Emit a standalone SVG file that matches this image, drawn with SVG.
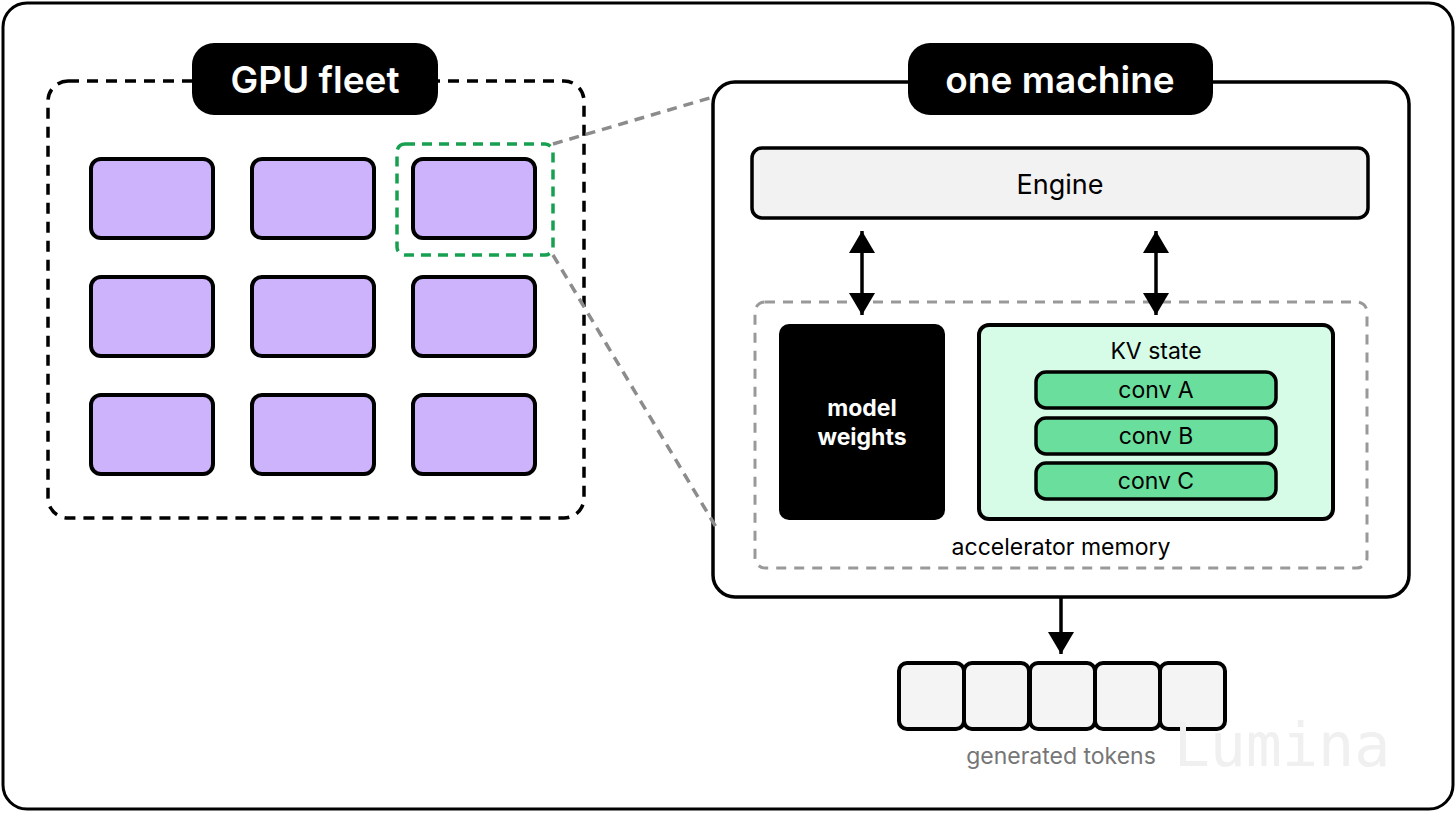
<svg xmlns="http://www.w3.org/2000/svg" width="1456" height="813" viewBox="0 0 1456 813">
<style>
text{font-family:Inter,"Liberation Sans",sans-serif}
.gpu{fill:#cdb3fc;stroke:#000;stroke-width:4}
.pill{fill:#000}
.pilltext{fill:#fff;font-size:37px;font-weight:600;text-anchor:middle}
.conv{fill:#6ade9c;stroke:#000;stroke-width:3.5}
.convt{font-size:23px;text-anchor:middle;fill:#000}
.tok{fill:#f4f4f4;stroke:#000;stroke-width:4}
.zoom{stroke:#8c8c8c;stroke-width:3.5;stroke-dasharray:10 7;fill:none}
.arr{stroke:#000;stroke-width:3.5;fill:none}
</style>
<defs>
<marker id="ah" viewBox="0 0 22 26" refX="22" refY="13" markerWidth="22" markerHeight="26" markerUnits="userSpaceOnUse" orient="auto-start-reverse"><path d="M0,0 L22,13 L0,26 z" fill="#000"/></marker>
</defs>
<rect x="0" y="0" width="1456" height="813" fill="#fff"/>
<rect id="frame" x="3" y="3" width="1450" height="806" rx="24" fill="#fff" stroke="#000" stroke-width="3"/>

<g id="gpu-fleet">
<rect x="48" y="81" width="536" height="437" rx="20" fill="none" stroke="#000" stroke-width="3.5" stroke-dasharray="11 8"/>
<rect class="pill" x="192" y="43" width="246" height="72" rx="22"/>
<text class="pilltext" x="315" y="93">GPU fleet</text>
</g>
<g id="gpus">
<rect class="gpu" x="91" y="159" width="122" height="79" rx="10"/>
<rect class="gpu" x="252" y="159" width="122" height="79" rx="10"/>
<rect class="gpu" x="413" y="159" width="122" height="79" rx="10"/>
<rect class="gpu" x="91" y="277" width="122" height="79" rx="10"/>
<rect class="gpu" x="252" y="277" width="122" height="79" rx="10"/>
<rect class="gpu" x="413" y="277" width="122" height="79" rx="10"/>
<rect class="gpu" x="91" y="395" width="122" height="79" rx="10"/>
<rect class="gpu" x="252" y="395" width="122" height="79" rx="10"/>
<rect class="gpu" x="413" y="395" width="122" height="79" rx="10"/>
</g>
<g id="highlight">
<rect x="397" y="144" width="156" height="111" rx="8" fill="none" stroke="#16a050" stroke-width="3.5" stroke-dasharray="10 7"/>
</g>

<g id="one-machine">
<rect x="713" y="82" width="696" height="515" rx="22" fill="#fff" stroke="#000" stroke-width="3.5"/>
<rect class="pill" x="908" y="43" width="305" height="72" rx="22"/>
<text class="pilltext" x="1060" y="93">one machine</text>
</g>
<g id="engine">
<rect x="752" y="148" width="616" height="70" rx="10" fill="#f2f2f2" stroke="#000" stroke-width="3.5"/>
<text x="1060" y="194" font-size="27" text-anchor="middle" fill="#000">Engine</text>
</g>
<g id="accelerator-memory">
<rect x="755" y="302" width="612" height="266" rx="10" fill="none" stroke="#999" stroke-width="3" stroke-dasharray="10 8"/>
<text x="1061" y="555" font-size="23" text-anchor="middle" fill="#000">accelerator memory</text>
</g>
<g id="model-weights">
<rect x="779" y="324" width="166" height="196" rx="10" fill="#000"/>
<text x="862" y="416" font-size="23" font-weight="700" text-anchor="middle" fill="#fff">model</text>
<text x="862" y="445" font-size="23" font-weight="700" text-anchor="middle" fill="#fff">weights</text>
</g>
<g id="kv-state">
<rect x="979" y="325" width="354" height="194" rx="10" fill="#d6fbe6" stroke="#000" stroke-width="4"/>
<text x="1156" y="359" font-size="23" text-anchor="middle" fill="#000">KV state</text>
</g>
<g id="conv-a"><rect class="conv" x="1036" y="372" width="240" height="36" rx="10"/><text class="convt" x="1156" y="398">conv A</text></g>
<g id="conv-b"><rect class="conv" x="1036" y="418" width="240" height="36" rx="10"/><text class="convt" x="1156" y="444">conv B</text></g>
<g id="conv-c"><rect class="conv" x="1036" y="463" width="240" height="36" rx="10"/><text class="convt" x="1156" y="489">conv C</text></g>

<g id="tokens">
<rect class="tok" x="899" y="663" width="65" height="66" rx="8"/>
<rect class="tok" x="964" y="663" width="65" height="66" rx="8"/>
<rect class="tok" x="1030" y="663" width="65" height="66" rx="8"/>
<rect class="tok" x="1095" y="663" width="65" height="66" rx="8"/>
<rect class="tok" x="1160" y="663" width="65" height="66" rx="8"/>
<text x="1061" y="764" font-size="23" text-anchor="middle" fill="#767676">generated tokens</text>
</g>
<text x="1282" y="766" font-size="60" text-anchor="middle" fill="#f0f0f0" style="font-family:'DejaVu Sans Mono','Liberation Mono',monospace">Lumina</text>

<g id="connectors">
<line class="zoom" x1="553" y1="144" x2="713" y2="97"/>
<line class="zoom" x1="553" y1="255" x2="716" y2="527"/>
<line class="arr" x1="862" y1="231" x2="862" y2="315" marker-start="url(#ah)" marker-end="url(#ah)"/>
<line class="arr" x1="1156" y1="231" x2="1156" y2="315" marker-start="url(#ah)" marker-end="url(#ah)"/>
<line class="arr" x1="1061" y1="598" x2="1061" y2="654" marker-end="url(#ah)"/>
</g>
</svg>
